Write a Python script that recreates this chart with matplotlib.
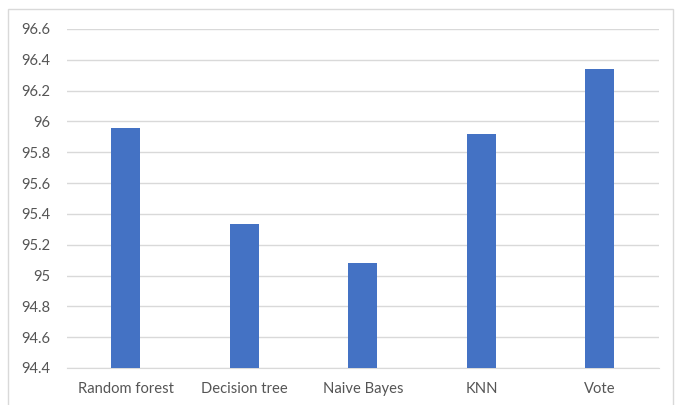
import numpy as np
import matplotlib
matplotlib.use("Agg")
import matplotlib.pyplot as plt
from matplotlib.patches import Rectangle

plt.rcParams['font.family'] = ['Lato', 'DejaVu Sans']

# data
models = ['Random forest', 'Decision tree', 'Naive Bayes', 'KNN', 'Vote']
accuracy = [95.96, 95.335, 95.08, 95.92, 96.34]
y_ticks = [94.4, 94.6, 94.8, 95.0, 95.2, 95.4, 95.6, 95.8, 96.0, 96.2, 96.4, 96.6]

bar_color = '#4472C4'
text_color = '#555555'
grid_color = '#D9D9D9'

fig = plt.figure(figsize=(6.76, 4.05), dpi=100)
ax = fig.add_axes([0.0987, 0.0914, 0.8763, 0.8370])

x = np.arange(len(models))
ax.bar(x, accuracy, width=0.245, color=bar_color, zorder=3)

ax.set_xlim(-0.5, len(models) - 0.5)
ax.set_ylim(y_ticks[0], y_ticks[-1])
ax.set_yticks(y_ticks)
ax.set_yticklabels([f'{v:g}' for v in y_ticks])
ax.set_xticks(x)
ax.set_xticklabels(models)

ax.grid(axis='y', color=grid_color, linewidth=1.0, zorder=0)
for s in ['top', 'right', 'left']:
    ax.spines[s].set_visible(False)
ax.spines['bottom'].set_color(grid_color)
ax.tick_params(axis='both', length=0, labelsize=10.6, colors=text_color)
ax.tick_params(axis='y', pad=12)
ax.tick_params(axis='x', pad=10)

# thin chart-area border as in the spreadsheet export
fig.patches.append(Rectangle((8 / 676, -0.01), 665 / 676, 1 - 9 / 405 + 0.01,
                             transform=fig.transFigure, fill=False,
                             edgecolor='#D9D9D9', linewidth=1.0))

fig.savefig('out.png', dpi=100)
